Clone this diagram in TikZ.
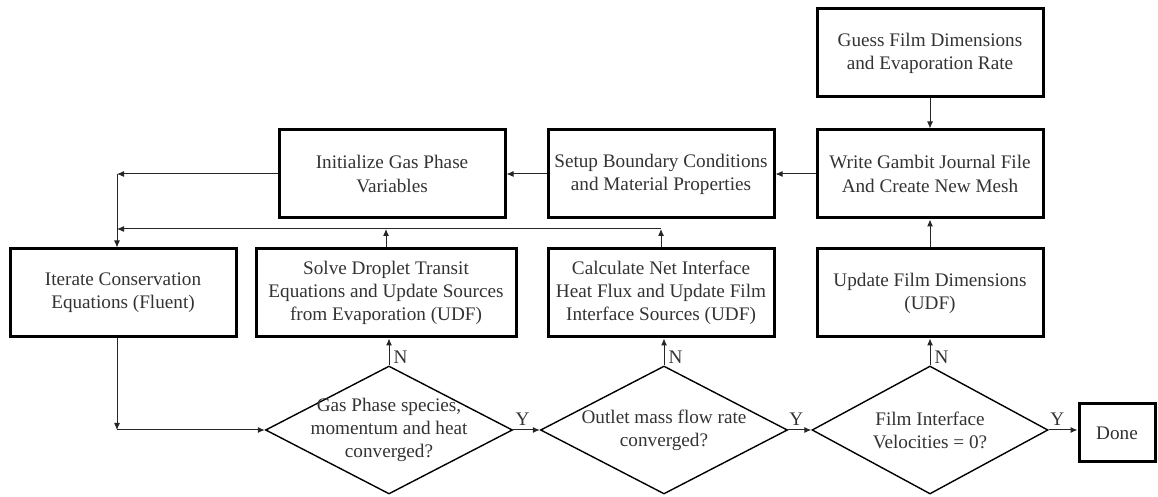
\documentclass[tikz,border=0pt]{standalone}
\usepackage{fontspec}
\setmainfont{Liberation Serif}
\usetikzlibrary{shapes.geometric,arrows.meta}

\begin{document}
\begin{tikzpicture}[x=0.5pt,y=-0.5pt,
  box/.style={draw,line width=1.5pt,minimum width=113pt,minimum height=44pt,inner sep=1pt,align=center,text=black!80,font=\fontsize{9.6}{11.6}\selectfont},
  decision/.style={draw,line width=0.7pt,shape=diamond,minimum width=123.5pt,minimum height=64pt,inner sep=0pt},
  dtext/.style={align=center,text=black!80,font=\fontsize{9.6}{11.6}\selectfont},
  flow/.style={-{Latex[length=3.5pt,width=3pt]},line width=0.5pt,draw=black!85},
  yn/.style={text=black!80,font=\fontsize{9.6}{11.6}\selectfont,inner sep=2pt}]
\useasboundingbox (0,0) rectangle (1158,497);

\node[box] (guess) at (930,53) {Guess Film Dimensions\\and Evaporation Rate};
\node[box] (write) at (930,174) {Write Gambit Journal File\\And Create New Mesh};
\node[box] (setup) at (661,174) {Setup Boundary Conditions\\and Material Properties};
\node[box] (init) at (392,174) {Initialize Gas Phase\\Variables};
\node[box] (iter) at (123,293) {Iterate Conservation\\Equations (Fluent)};
\node[box,minimum width=130pt] (solve) at (386,293) {Solve Droplet Transit\\Equations and Update Sources\\from Evaporation (UDF)};
\node[box] (calc) at (661,293) {Calculate Net Interface\\Heat Flux and Update Film\\Interface Sources (UDF)};
\node[box] (update) at (930,293) {Update Film Dimensions\\(UDF)};
\node[decision,label={[dtext]center:{Gas Phase species,\\momentum and heat\\converged?}}] (d1) at (389,430) {};
\node[decision,label={[dtext]center:{Outlet mass flow rate\\converged?}}] (d2) at (664,430) {};
\node[decision,minimum width=118pt,label={[dtext]center:{Film Interface\\Velocities = 0?}}] (d3) at (930,430) {};
\node[box,minimum width=38pt,minimum height=29pt] (done) at (1117,433) {Done};

\coordinate (tl) at (117,174);
\coordinate (ml) at (117,229);
\coordinate (bl) at (117,430);

\draw[flow] (guess) -- (write);
\draw[flow] (write) -- (setup);
\draw[flow] (setup) -- (init);
\draw[flow] (init) -- (tl);
\draw[flow] (tl) -- (tl |- iter.north);
\draw[flow] (solve.north) -- (solve.north |- ml);
\draw[flow] (calc.north) -- (calc.north |- ml);
\draw[flow] (calc.north |- ml) -- (ml);
\draw[flow] (iter.south -| bl) -- (bl);
\draw[flow] (bl) -- (d1);
\draw[flow] (d1.north) -- node[yn,right,pos=0.3] {N} (d1.north |- solve.south);
\draw[flow] (d2.north) -- node[yn,right,pos=0.3] {N} (d2.north |- calc.south);
\draw[flow] (d3.north) -- node[yn,right,pos=0.3] {N} (update);
\draw[flow] (update) -- (write);
\draw[flow] (d1) -- node[yn,above,pos=0.35] {Y} (d2);
\draw[flow] (d2) -- node[yn,above,pos=0.35] {Y} (d3);
\draw[flow] (d3.east) -- node[yn,above,pos=0.3] {Y} (d3.east -| done.west);
\end{tikzpicture}
\end{document}
